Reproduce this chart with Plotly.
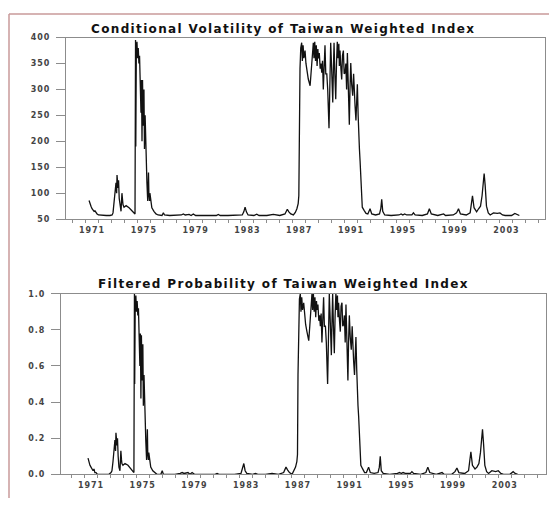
import plotly.graph_objects as go

# ---------------- data ----------------
years = [
    1971.27, 1971.35, 1971.42, 1971.50, 1971.58, 1971.66, 1971.73, 1971.80, 1971.89, 1972.00,
    1972.30, 1972.60, 1972.89, 1973.05, 1973.12, 1973.20, 1973.27, 1973.35, 1973.40, 1973.43,
    1973.51, 1973.55, 1973.60, 1973.66, 1973.74, 1973.81, 1973.86, 1973.89, 1973.97, 1974.13,
    1974.36, 1974.59, 1974.75, 1974.82, 1974.86, 1974.88, 1974.92, 1974.97, 1975.02, 1975.07,
    1975.12, 1975.17, 1975.20, 1975.25, 1975.28, 1975.32, 1975.36, 1975.40, 1975.45, 1975.51,
    1975.55, 1975.60, 1975.66, 1975.70, 1975.74, 1975.80, 1975.86, 1975.89, 1975.94, 1975.97,
    1976.05, 1976.12, 1976.28, 1976.44, 1976.60, 1976.90, 1977.01, 1977.10, 1977.50, 1978.00,
    1978.40, 1978.55, 1978.70, 1979.00, 1979.15, 1979.32, 1979.50, 1980.00, 1980.50, 1981.10,
    1981.25, 1981.40, 1982.00, 1982.60, 1983.10, 1983.22, 1983.32, 1983.42, 1983.55, 1984.00,
    1984.22, 1984.40, 1985.00, 1985.50, 1986.00, 1986.40, 1986.58, 1986.70, 1986.85, 1987.05,
    1987.20, 1987.32, 1987.42, 1987.47, 1987.51, 1987.56, 1987.62, 1987.69, 1987.74, 1987.80,
    1987.86, 1987.95, 1988.02, 1988.10, 1988.20, 1988.34, 1988.42, 1988.50, 1988.59, 1988.64,
    1988.70, 1988.76, 1988.82, 1988.88, 1988.94, 1988.98, 1989.05, 1989.12, 1989.18, 1989.24,
    1989.30, 1989.36, 1989.42, 1989.49, 1989.55, 1989.63, 1989.70, 1989.80, 1989.86, 1989.93,
    1989.99, 1990.04, 1990.09, 1990.14, 1990.19, 1990.25, 1990.32, 1990.38, 1990.44, 1990.50,
    1990.56, 1990.60, 1990.65, 1990.72, 1990.78, 1990.84, 1990.91, 1990.97, 1991.04, 1991.10,
    1991.16, 1991.22, 1991.29, 1991.37, 1991.42, 1991.48, 1991.55, 1991.63, 1991.70, 1991.76,
    1991.81, 1991.88, 1991.94, 1991.99, 1992.05, 1992.10, 1992.15, 1992.20, 1992.27, 1992.37,
    1992.51, 1992.66, 1992.80, 1992.97, 1993.10, 1993.40, 1993.70, 1993.80, 1993.87, 1993.95,
    1994.10, 1994.60, 1995.20, 1995.37, 1995.50, 1995.64, 1995.80, 1996.20, 1996.32, 1996.45,
    1997.00, 1997.40, 1997.55, 1997.70, 1998.20, 1998.65, 1998.80, 1999.40, 1999.65, 1999.80,
    1999.95, 2000.40, 2000.70, 2000.80, 2000.88, 2001.00, 2001.20, 2001.35, 2001.50, 2001.62,
    2001.72, 2001.78, 2001.86, 2001.96, 2002.10, 2002.25, 2002.50, 2002.80, 2003.00, 2003.20,
    2003.40, 2003.90, 2004.15, 2004.30, 2004.50,
]

volatility = [
    86, 78, 75, 70, 68, 65, 66, 62, 60, 58,
    57, 57, 57, 58, 62, 80, 105, 120, 100, 135,
    110, 125, 90, 72, 65, 100, 85, 78, 73, 76,
    72, 66, 62, 60, 395, 190, 370, 392, 360, 380,
    350, 365, 330, 280, 255, 318, 200, 318, 230, 300,
    185, 250, 170, 140, 120, 85, 140, 100, 85, 100,
    80, 72, 65, 60, 58, 57, 62, 58, 57, 57,
    58, 60, 58, 59, 57, 60, 57, 57, 57, 57,
    59, 57, 57, 57, 58, 64, 73, 64, 58, 57,
    59.5, 57, 57, 59, 57, 60, 69, 64, 60, 58,
    63, 70, 80, 95, 250, 340, 380, 390, 355, 385,
    360, 375, 350, 335, 320, 307, 330, 365, 390, 360,
    392, 355, 385, 345, 378, 360, 370, 340, 350, 332,
    355, 300, 340, 385, 330, 330, 300, 225, 300, 390,
    350, 310, 275, 340, 390, 330, 281, 350, 392, 360,
    388, 345, 375, 340, 319, 365, 375, 330, 332, 350,
    300, 370, 290, 232, 300, 351, 310, 288, 330, 280,
    269, 240, 280, 310, 250, 200, 185, 162, 111, 73,
    67, 61, 60, 70, 60, 58, 60, 70, 88, 65,
    58, 57, 58, 60, 58, 60, 58, 58, 62, 58,
    57, 60, 70, 60, 57, 60, 57, 58, 62, 70,
    60, 58, 62, 80, 95, 72, 64, 70, 75, 95,
    125, 138, 115, 75, 62, 58, 62, 61, 62, 58,
    57, 57, 61, 59, 57,
]

probability = [
    0.09, 0.06, 0.05, 0.04, 0.03, 0.02, 0.03, 0.01, 0.01, 0.00,
    0.00, 0.00, 0.00, 0.01, 0.02, 0.07, 0.15, 0.19, 0.13, 0.23,
    0.16, 0.20, 0.10, 0.04, 0.02, 0.13, 0.08, 0.06, 0.05, 0.06,
    0.05, 0.03, 0.01, 0.01, 1.00, 0.50, 0.94, 0.99, 0.90, 0.96,
    0.88, 0.92, 0.82, 0.67, 0.60, 0.78, 0.42, 0.77, 0.52, 0.72,
    0.38, 0.55, 0.33, 0.24, 0.18, 0.08, 0.25, 0.12, 0.08, 0.12,
    0.06, 0.04, 0.02, 0.01, 0.00, 0.00, 0.02, 0.00, 0.00, 0.00,
    0.005, 0.01, 0.005, 0.01, 0.00, 0.01, 0.00, 0.00, 0.00, 0.00,
    0.005, 0.00, 0.00, 0.00, 0.005, 0.03, 0.06, 0.02, 0.005, 0.00,
    0.005, 0.00, 0.00, 0.005, 0.00, 0.01, 0.04, 0.025, 0.01, 0.00,
    0.02, 0.04, 0.07, 0.11, 0.55, 0.85, 0.97, 1.00, 0.90, 0.98,
    0.91, 0.95, 0.88, 0.83, 0.79, 0.74, 0.82, 0.92, 1.00, 0.91,
    1.00, 0.90, 0.98, 0.87, 0.96, 0.91, 0.94, 0.85, 0.88, 0.82,
    0.89, 0.73, 0.85, 0.98, 0.82, 0.82, 0.73, 0.50, 0.73, 1.00,
    0.88, 0.76, 0.66, 0.85, 1.00, 0.82, 0.67, 0.88, 1.00, 0.91,
    0.99, 0.87, 0.95, 0.85, 0.79, 0.93, 0.95, 0.82, 0.83, 0.88,
    0.73, 0.94, 0.70, 0.52, 0.73, 0.88, 0.76, 0.69, 0.82, 0.67,
    0.63, 0.55, 0.67, 0.76, 0.58, 0.42, 0.38, 0.32, 0.16, 0.05,
    0.03, 0.01, 0.01, 0.04, 0.01, 0.005, 0.01, 0.04, 0.10, 0.02,
    0.005, 0.00, 0.005, 0.01, 0.005, 0.01, 0.005, 0.005, 0.015, 0.005,
    0.00, 0.01, 0.04, 0.01, 0.00, 0.01, 0.00, 0.00, 0.015, 0.035,
    0.01, 0.005, 0.02, 0.07, 0.125, 0.05, 0.03, 0.04, 0.06, 0.12,
    0.21, 0.25, 0.17, 0.05, 0.015, 0.005, 0.02, 0.015, 0.02, 0.005,
    0.00, 0.00, 0.015, 0.005, 0.00,
]

label_years = [1971, 1975, 1979, 1983, 1987, 1991, 1995, 1999, 2003]
vol_ticks = [50, 100, 150, 200, 250, 300, 350, 400]
prob_ticks = [0.0, 0.2, 0.4, 0.6, 0.8, 1.0]

top_title = "Conditional Volatility of Taiwan Weighted Index"
bottom_title = "Filtered Probability of Taiwan Weighted Index"

# ---------------- figure ----------------
# the page body has an 8px margin; size the figure so it fits the 557x506 window
PAGE_W, PAGE_H, OFF = 557, 506, 8
W, H = PAGE_W - 2 * OFF, PAGE_H - 2 * OFF


def px(x):
    return (x - OFF) / W


def py(y):
    return 1 - (y - OFF) / H


AXIS_COL = "#8c8c8c"
BORDER_COL = "#c99a9a"
TICK_FONT = dict(family="DejaVu Sans", size=8, color="#444444", weight="bold")


def spaced(s, sp):
    return f"<span style='letter-spacing:{sp}px'>{s}</span>"


fig = go.Figure()
fig.add_trace(go.Scatter(x=years, y=volatility, mode="lines",
                         line=dict(color="#111111", width=1.3),
                         xaxis="x", yaxis="y", showlegend=False))
fig.add_trace(go.Scatter(x=years, y=probability, mode="lines",
                         line=dict(color="#111111", width=1.3),
                         xaxis="x2", yaxis="y2", showlegend=False))

minor_years = list(range(1969, 2008))


def xaxis(domain, rng, anchor):
    return dict(
        domain=domain, range=rng, anchor=anchor,
        showline=True, linecolor=AXIS_COL, linewidth=1, mirror=True,
        showgrid=False, zeroline=False,
        tickmode="array", tickvals=[y + 0.5 for y in label_years],
        ticktext=[spaced(str(y), 1) for y in label_years],
        ticks="", tickfont=TICK_FONT, ticklabelstandoff=3,
        minor=dict(tickmode="array", tickvals=minor_years, ticks="outside",
                   ticklen=3, tickcolor=AXIS_COL, tickwidth=1),
    )


def yaxis(domain, rng, anchor, vals, texts):
    return dict(
        domain=domain, range=rng, anchor=anchor,
        showline=True, linecolor=AXIS_COL, linewidth=1, mirror=True,
        showgrid=False, zeroline=False,
        tickmode="array", tickvals=vals, ticktext=texts,
        ticks="outside", ticklen=9, tickcolor=AXIS_COL, tickwidth=1,
        tickfont=TICK_FONT, ticklabelstandoff=4,
    )


fig.update_layout(
    width=W, height=H,
    margin=dict(l=0, r=0, t=0, b=0),
    paper_bgcolor="white", plot_bgcolor="white",
    xaxis=xaxis([px(66), px(545)], [1969.49, 2006.48], "y"),
    yaxis=yaxis([py(219), py(34)], [50, 400], "x", vol_ticks,
                [spaced(str(v), 1) for v in vol_ticks]),
    xaxis2=xaxis([px(61), px(546)], [1969.18, 2006.69], "y2"),
    yaxis2=yaxis([py(479), py(295)], [0, 1], "x2", prob_ticks,
                 [spaced(f"{v:.1f}", 1) for v in prob_ticks]),
    annotations=[
        dict(text=spaced(top_title, 1.35), x=px(283), y=py(25), xref="paper", yref="paper",
             showarrow=False, xanchor="center", yanchor="middle",
             font=dict(family="DejaVu Sans", size=12, color="#111111", weight="bold")),
        dict(text=spaced(bottom_title, 1.35), x=px(283), y=py(285), xref="paper", yref="paper",
             showarrow=False, xanchor="center", yanchor="middle",
             font=dict(family="DejaVu Sans", size=12, color="#111111", weight="bold")),
    ],
    shapes=[
        dict(type="line", xref="paper", yref="paper",
             x0=px(9), x1=px(560), y0=py(10), y1=py(10),
             line=dict(color=BORDER_COL, width=1.5), layer="below"),
        dict(type="line", xref="paper", yref="paper",
             x0=px(9), x1=px(9), y0=py(10), y1=py(520),
             line=dict(color=BORDER_COL, width=1.5), layer="below"),
    ],
)

fig.write_html("out.html")
